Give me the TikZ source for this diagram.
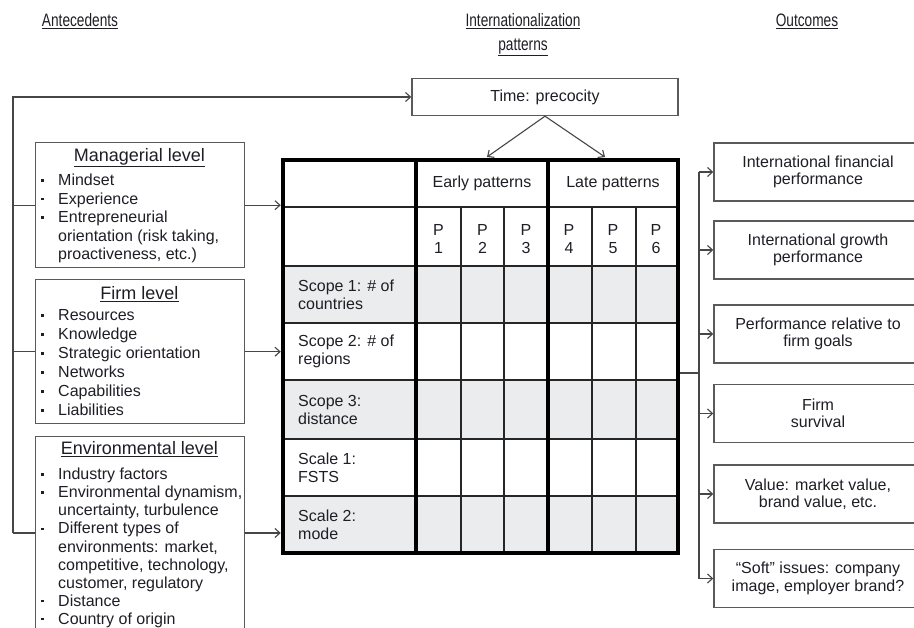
\documentclass[tikz,border=0pt]{standalone}
\usepackage{fontspec}
\setmainfont{Liberation Sans}
\newfontfamily\narrowfont[FakeStretch=0.76]{Liberation Sans}
\usetikzlibrary{arrows.meta}
\definecolor{linegray}{RGB}{70,70,70}
\definecolor{boxgray}{RGB}{90,90,90}
\definecolor{cellgray}{RGB}{235,236,238}
\definecolor{txt}{RGB}{30,30,38}
\newcommand\bul{\rule[4pt]{2.4pt}{2.4pt}}
\renewcommand\arraystretch{1}
\begin{document}
\begin{tikzpicture}[x=1pt,y=-1pt,
  conn/.style={draw=linegray, line width=1.1pt},
  tip/.style={-{Straight Barb[length=5pt,width=9pt]}},
  bx/.style={draw=boxgray, line width=1.4pt, inner sep=0pt, fill=white},
  hdr/.style={font=\narrowfont\fontsize{18}{24}\selectfont, text=txt, inner sep=0pt, align=center},
  ttl/.style={font=\fontsize{18}{20}\selectfont, text=txt, inner sep=0pt, anchor=base},
  lst/.style={font=\fontsize{16}{18.5}\selectfont, text=txt, inner sep=0pt, anchor=north west},
  tt/.style={font=\fontsize{16}{18}\selectfont, text=txt, inner sep=0pt, align=center},
  rowlab/.style={font=\fontsize{16}{18}\selectfont, text=txt, inner sep=0pt, align=left, anchor=west},
  rb/.style={bx, minimum width=208pt, minimum height=58pt, align=center, font=\fontsize{16}{17.5}\selectfont, text=txt},
  thickln/.style={draw=black, line width=3.6pt},
  midln/.style={draw=black!85, line width=2pt},
  thinln/.style={draw=black!85, line width=1.8pt}
]
\useasboundingbox (0,0) rectangle (914,628);
\clip (0,0) rectangle (914,628);

% headers
\node[hdr, anchor=base] (hA) at (80,26.5) {\underline{Antecedents}};
\node[hdr, anchor=base] (hI) at (523,26.5) {\underline{Internationalization}};
\node[hdr, anchor=base] (hI2) at (523,50.5) {\underline{patterns}};
\node[hdr, anchor=base] (hO) at (807,26.5) {\underline{Outcomes}};

% time box
\node[bx, minimum width=266pt, minimum height=37pt, font=\fontsize{16}{18}\selectfont, text=txt] (time) at (545,97) {Time: precocity};

% left boxes
\node[bx, minimum width=209pt, minimum height=125pt, anchor=north west] (mgr) at (35,142) {};
\node[ttl] (mgrT) at (139.5,161.5) {\underline{Managerial level}};
\node[lst] (mgrL) at (41,172.5) {\begin{tabular}{@{}p{17pt}@{}l@{}}
\bul & Mindset\\
\bul & Experience\\
\bul & Entrepreneurial\\
 & orientation (risk taking,\\
 & proactiveness, etc.)
\end{tabular}};

\node[bx, minimum width=209pt, minimum height=144pt, anchor=north west] (firm) at (35,279) {};
\node[ttl] (firmT) at (139.5,299.5) {\underline{Firm level}};
\node[lst, font=\fontsize{16}{19}\selectfont] (firmL) at (41,307.2) {\begin{tabular}{@{}p{17pt}@{}l@{}}
\bul & Resources\\
\bul & Knowledge\\
\bul & Strategic orientation\\
\bul & Networks\\
\bul & Capabilities\\
\bul & Liabilities
\end{tabular}};

\node[bx, minimum width=209pt, minimum height=210pt, anchor=north west] (env) at (35,436) {};
\node[ttl] (envT) at (139.5,454.5) {\underline{Environmental level}};
\node[lst, font=\fontsize{16}{18.1}\selectfont] (envL) at (41,466.8) {\begin{tabular}{@{}p{17pt}@{}l@{}}
\bul & Industry factors\\
\bul & Environmental dynamism,\\
 & uncertainty, turbulence\\
\bul & Different types of\\
 & environments: market,\\
 & competitive, technology,\\
 & customer, regulatory\\
\bul & Distance\\
\bul & Country of origin
\end{tabular}};

% table fills
\fill[cellgray] (283,266) rectangle (678,323);
\fill[cellgray] (283,380) rectangle (678,439);
\fill[cellgray] (283,496) rectangle (678,553);
% table lines
\foreach \yy in {207,266,323,380,439,496}
  \draw[midln] (283,\yy) -- (678,\yy);
\foreach \xx in {461,504,592,636}
  \draw[thinln] (\xx,207) -- (\xx,553);
\foreach \xx in {416,548}
  \draw[thickln] (\xx,160) -- (\xx,553);
\node[draw=black, line width=4.5pt, minimum width=395pt, minimum height=393pt, inner sep=0pt] (tab) at (480.5,356.5) {};

% table texts
\node[tt] (early) at (482,183.5) {Early patterns};
\node[tt] (late) at (613,183.5) {Late patterns};
\node[tt] (p1) at (438.5,239) {P\\1};
\node[tt] (p2) at (482.5,239) {P\\2};
\node[tt] (p3) at (526,239) {P\\3};
\node[tt] (p4) at (569,239) {P\\4};
\node[tt] (p5) at (613,239) {P\\5};
\node[tt] (p6) at (656,239) {P\\6};
\node[rowlab] (r1) at (298,294.5) {Scope 1: \# of\\countries};
\node[rowlab] (r2) at (298,351.5) {Scope 2: \# of\\regions};
\node[rowlab] (r3) at (298,409.5) {Scope 3:\\distance};
\node[rowlab] (r4) at (298,467.5) {Scale 1:\\FSTS};
\node[rowlab] (r5) at (298,524.5) {Scale 2:\\mode};

% outcome boxes
\node[rb] (o1) at (818,172) {International financial\\performance};
\node[rb] (o2) at (818,250) {International growth\\performance};
\node[rb] (o3) at (818,334) {Performance relative to\\firm goals};
\node[rb] (o4) at (818,413.5) {Firm\\survival};
\node[rb] (o5) at (818,494) {Value: market value,\\brand value, etc.};
\node[rb] (o6) at (818,578.5) {``Soft'' issues: company\\image, employer brand?};

% left connectors
\coordinate (lj) at (13,533);
\draw[conn, tip] (lj) |- (time.west);
\draw[conn] (lj |- mgr.west) -- (mgr.west);
\draw[conn] (lj |- firm.west) -- (firm.west);
\draw[conn] (lj) -- (env.west |- lj);
\draw[conn, tip] (mgr.east) -- (mgr.east -| tab.west);
\draw[conn, tip] (firm.east) -- (firm.east -| tab.west);
\draw[conn, tip] (env.east |- lj) -- (tab.west |- lj);

% time to table
\coordinate (ta) at (487,157);
\coordinate (tb) at (605,157);
\draw[conn, tip] (time.south) -- (ta);
\draw[conn, tip] (time.south) -- (tb);

% right connectors
\coordinate (rj) at (699,373);
\draw[conn] (tab.east |- rj) -- (rj);
\draw[conn] (rj |- o1.west) -- (rj |- o6.west);
\foreach \o in {o1,o2,o3,o4,o5,o6}
  \draw[conn, tip] (rj |- \o.west) -- (\o.west);
\end{tikzpicture}
\end{document}
